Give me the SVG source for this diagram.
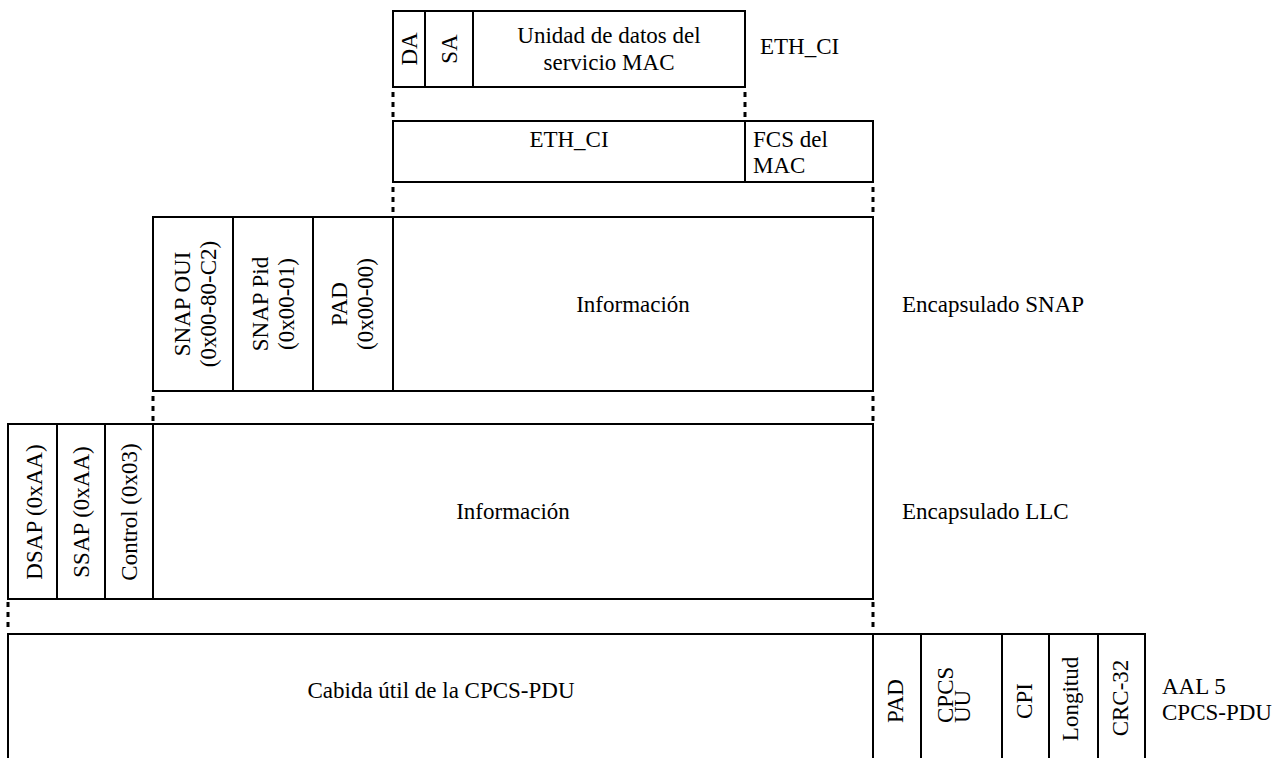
<svg xmlns="http://www.w3.org/2000/svg" width="1276" height="758" viewBox="0 0 1276 758">
<style>
  .box { fill: #fff; stroke: #000; stroke-width: 2; }
  .ln { stroke: #000; stroke-width: 2; fill: none; }
  .dot { stroke: #000; stroke-width: 3; fill: none; stroke-dasharray: 5 5; }
  text { font-family: "Liberation Serif", "Times New Roman", serif; font-size: 23px; fill: #000; }
  .c { text-anchor: middle; }
</style>
<rect width="1276" height="758" fill="#fff"/>

<g id="connectors">
  <path class="dot" d="M393 92 V122 M745 92 V122"/>
  <path class="dot" d="M393 187 V217 M873 187 V217"/>
  <path class="dot" d="M153 396 V426 M873 396 V426"/>
  <path class="dot" d="M8 602 V632 M873 602 V632"/>
</g>

<g id="eth-ci-frame">
  <rect class="box" x="393" y="11" width="352" height="76"/>
  <path class="ln" d="M425 11 V87 M473 11 V87"/>
  <text transform="translate(417,49) rotate(-90)" class="c">DA</text>
  <text transform="translate(457,49) rotate(-90)" class="c">SA</text>
  <text x="609" y="43" class="c">Unidad de datos del</text>
  <text x="609" y="70" class="c">servicio MAC</text>
  <text x="760" y="54">ETH_CI</text>
</g>

<g id="mac-frame">
  <rect class="box" x="393" y="121" width="480" height="61"/>
  <path class="ln" d="M745 121 V182"/>
  <text x="569" y="147" class="c">ETH_CI</text>
  <text x="753" y="147">FCS del</text>
  <text x="753" y="173">MAC</text>
</g>

<g id="snap-frame">
  <rect class="box" x="153" y="217" width="720" height="174"/>
  <path class="ln" d="M233 217 V391 M313 217 V391 M393 217 V391"/>
  <text transform="translate(190,304) rotate(-90)" class="c">SNAP OUI</text>
  <text transform="translate(216,304) rotate(-90)" class="c">(0x00-80-C2)</text>
  <text transform="translate(268,304) rotate(-90)" class="c">SNAP Pid</text>
  <text transform="translate(294,304) rotate(-90)" class="c">(0x00-01)</text>
  <text transform="translate(347,304) rotate(-90)" class="c">PAD</text>
  <text transform="translate(373,304) rotate(-90)" class="c">(0x00-00)</text>
  <text x="633" y="312" class="c">Información</text>
  <text x="902" y="312">Encapsulado SNAP</text>
</g>

<g id="llc-frame">
  <rect class="box" x="8" y="424" width="865" height="175"/>
  <path class="ln" d="M57 424 V599 M105 424 V599 M153 424 V599"/>
  <text transform="translate(42,512) rotate(-90)" class="c">DSAP (0xAA)</text>
  <text transform="translate(89,512) rotate(-90)" class="c">SSAP (0xAA)</text>
  <text transform="translate(137,512) rotate(-90)" class="c">Control (0x03)</text>
  <text x="513" y="519" class="c">Información</text>
  <text x="902" y="519">Encapsulado LLC</text>
</g>

<g id="aal5-frame">
  <path class="ln" d="M8 758 V634 H1145 V758 M873 634 V758 M921 634 V758 M1002 634 V758 M1049 634 V758 M1098 634 V758"/>
  <text x="441" y="698" class="c">Cabida útil de la CPCS-PDU</text>
  <text transform="translate(903,701) rotate(-90)" class="c">PAD</text>
  <text transform="translate(953,723) rotate(-90)">CPCS</text>
  <text transform="translate(970,723) rotate(-90)">UU</text>
  <text transform="translate(1032,701) rotate(-90)" class="c">CPI</text>
  <text transform="translate(1078,699) rotate(-90)" class="c">Longitud</text>
  <text transform="translate(1128,698) rotate(-90)" class="c">CRC-32</text>
  <text x="1162" y="694">AAL 5</text>
  <text x="1162" y="720">CPCS-PDU</text>
</g>
</svg>
